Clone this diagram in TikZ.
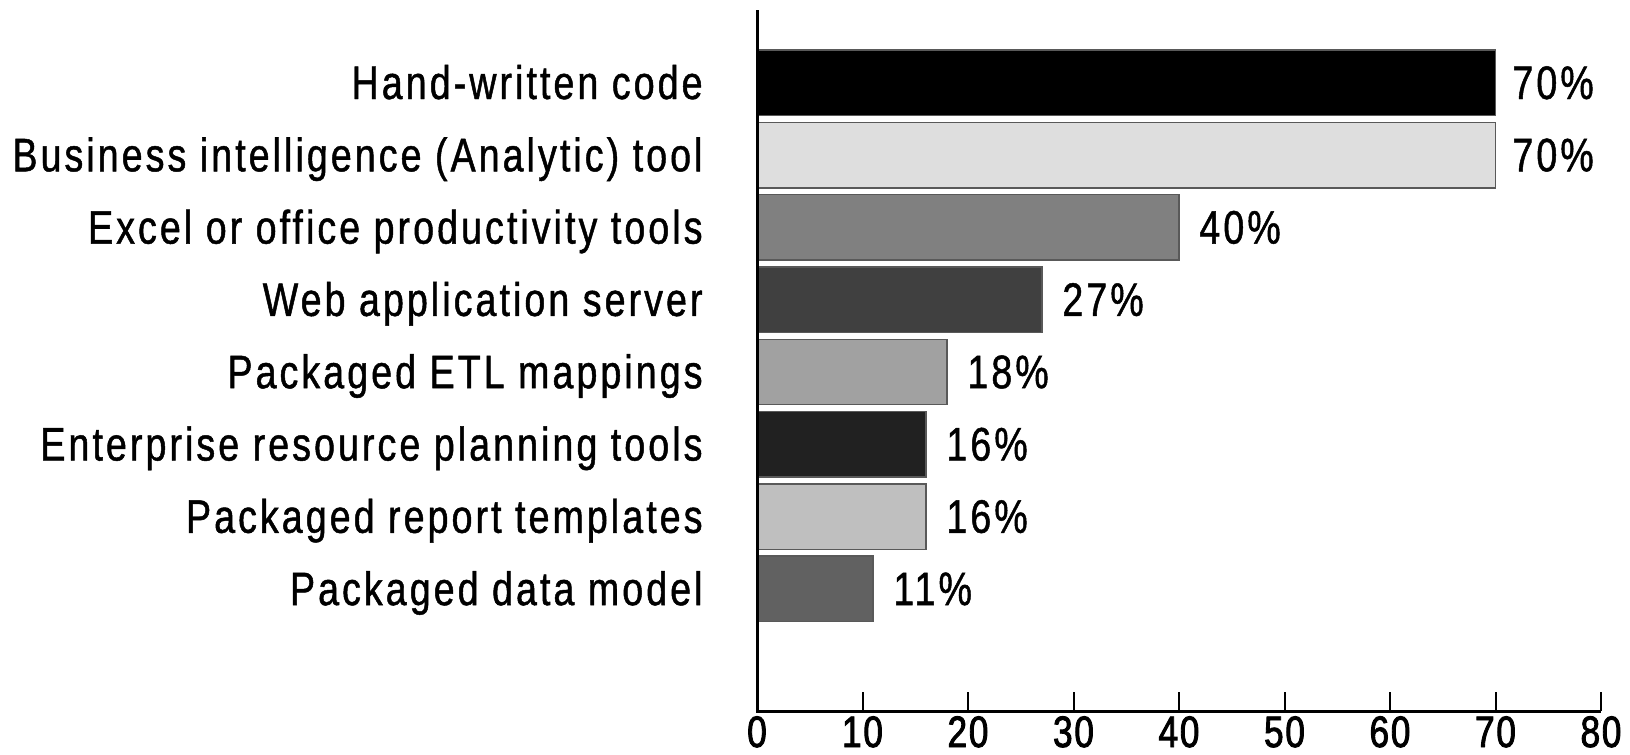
\documentclass[tikz,border=0pt]{standalone}
\usepackage{fontspec}
\setmainfont[FakeStretch=0.8,LetterSpace=6.5,FakeBold=1]{Liberation Sans}
\newfontfamily\ticknumfont[FakeStretch=0.8,LetterSpace=4,FakeBold=2]{Liberation Sans}
\usepackage{tikz}
\usetikzlibrary{positioning}

\begin{document}
\begin{tikzpicture}[x=0.5pt,y=-0.5pt,
  bar/.style={draw=black!65, line width=0.7pt},
  cat/.style={anchor=base east, inner sep=0pt, font=\fontsize{23.5}{28}\selectfont},
  val/.style={anchor=base west, inner sep=0pt, font=\fontsize{23.5}{28}\selectfont},
  num/.style={anchor=base, inner sep=0pt, font=\ticknumfont\fontsize{22}{26}\selectfont}]
\useasboundingbox (0,0) rectangle (1630,755);

\draw [bar, fill=black] (757,50) rectangle (1495.5,115.5); \node [cat] (c1) at (703,99) {Hand-written code}; \node [val] (v1) at (1512,99) {70\%};
\draw [bar, fill=black!13] (757,122.3) rectangle (1495.5,187.8); \node [cat] (c2) at (703,171.3) {Business intelligence (Analytic) tool}; \node [val] (v2) at (1512,171.3) {70\%};
\draw [bar, fill=black!50] (757,194.6) rectangle (1179,260.1); \node [cat] (c3) at (703,243.6) {Excel or office productivity tools}; \node [val] (v3) at (1199,243.6) {40\%};
\draw [bar, fill=black!75] (757,266.9) rectangle (1042,332.4); \node [cat] (c4) at (703,315.9) {Web application server}; \node [val] (v4) at (1062,315.9) {27\%};
\draw [bar, fill=black!37] (757,339.2) rectangle (947,404.7); \node [cat] (c5) at (703,388.2) {Packaged ETL mappings}; \node [val] (v5) at (967,388.2) {18\%};
\draw [bar, fill=black!87] (757,411.5) rectangle (926,477); \node [cat] (c6) at (703,460.5) {Enterprise resource planning tools}; \node [val] (v6) at (946,460.5) {16\%};
\draw [bar, fill=black!25] (757,483.8) rectangle (926,549.3); \node [cat] (c7) at (703,532.8) {Packaged report templates}; \node [val] (v7) at (946,532.8) {16\%};
\draw [bar, fill=black!62] (757,556.1) rectangle (873,621.6); \node [cat] (c8) at (703,605.1) {Packaged data model}; \node [val] (v8) at (893,605.1) {11\%};

% axes
\coordinate (top) at (757,10); \coordinate (o) at (757,711); \coordinate (end) at (1601,711);
\draw [line width=1.5pt] (top) -- (o) -- (end);
\draw [line width=1pt] (862.5,711) -- (862.5,692) (968,711) -- (968,692) (1073.5,711) -- (1073.5,692) (1179,711) -- (1179,692);
\draw [line width=1pt] (1284.5,711) -- (1284.5,692) (1390,711) -- (1390,692) (1495.5,711) -- (1495.5,692) (1601,711) -- (1601,692);
\node [num] (t0) at (757,747) {0}; \node [num] (t1) at (862.5,747) {10}; \node [num] (t2) at (968,747) {20};
\node [num] (t3) at (1073.5,747) {30}; \node [num] (t4) at (1179,747) {40}; \node [num] (t5) at (1284.5,747) {50};
\node [num] (t6) at (1390,747) {60}; \node [num] (t7) at (1495.5,747) {70}; \node [num] (t8) at (1601,747) {80};
\end{tikzpicture}
\end{document}
